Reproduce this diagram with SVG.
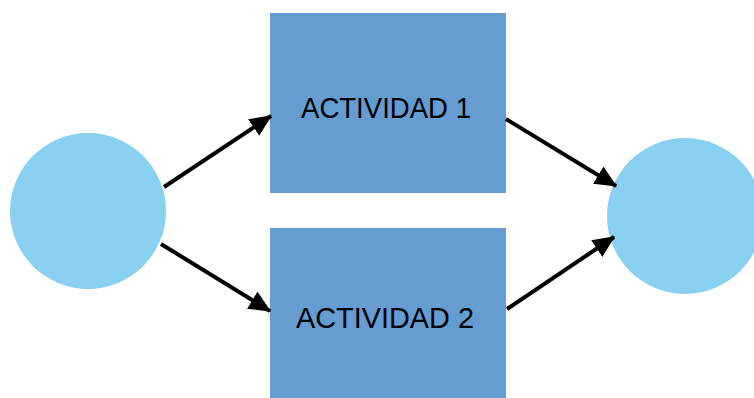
<svg xmlns="http://www.w3.org/2000/svg" width="754" height="398" viewBox="0 0 754 398">
<style>
.box{fill:#659DD3}
.circ{fill:#8AD0F1}
.lbl{font-family:"Liberation Sans",Arial,sans-serif;font-size:29px;fill:#000}
.con{stroke:#000;stroke-width:4;fill:none}
</style>
<defs>
<marker id="ah" markerWidth="6" markerHeight="5" refX="5.2" refY="2.5" orient="auto" markerUnits="strokeWidth">
<path d="M0,0 L5.5,2.5 L0,5 Z" fill="#000"/>
</marker>
</defs>
<rect width="754" height="398" fill="#fff"/>
<g id="start"><circle class="circ" cx="88" cy="211" r="78"/></g>
<g id="end"><circle class="circ" cx="685" cy="216" r="78"/></g>
<g id="act1"><rect class="box" x="270" y="13" width="236" height="180"/><text class="lbl" x="301" y="118" textLength="170" lengthAdjust="spacingAndGlyphs">ACTIVIDAD 1</text></g>
<g id="act2"><rect class="box" x="270" y="228" width="236" height="170"/><text class="lbl" x="296" y="328" textLength="178" lengthAdjust="spacingAndGlyphs">ACTIVIDAD 2</text></g>
<g id="connectors">
<line class="con" x1="164" y1="187" x2="271" y2="116" marker-end="url(#ah)"/>
<line class="con" x1="161" y1="244" x2="270" y2="311" marker-end="url(#ah)"/>
<line class="con" x1="506" y1="119" x2="616" y2="186" marker-end="url(#ah)"/>
<line class="con" x1="507" y1="309" x2="614" y2="237" marker-end="url(#ah)"/>
</g>
</svg>
